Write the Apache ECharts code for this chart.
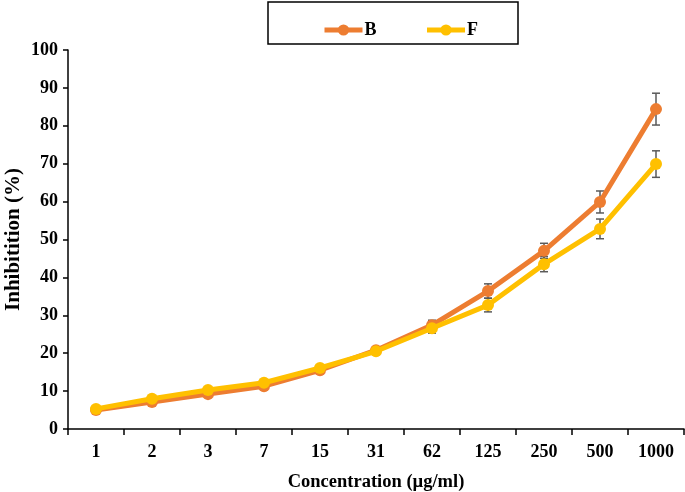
<!DOCTYPE html>
<html>
<head>
<meta charset="utf-8">
<script src="https://cdn.jsdelivr.net/npm/echarts@6/dist/echarts.min.js"></script>
<style>html,body{margin:0;padding:0;background:#fff}#c{width:685px;height:492px}</style>
</head>
<body>
<div id="c"></div>
<script>
const categories = ['1','2','3','7','15','31','62','125','250','500','1000'];
const seriesB = [5.0, 7.1, 9.2, 11.3, 15.5, 20.8, 27.4, 36.4, 47.0, 59.9, 84.4];
const seriesF = [5.3, 8.0, 10.3, 12.2, 16.1, 20.5, 26.6, 32.7, 43.5, 52.8, 69.9];
const errB = [0.3, 0.4, 0.4, 0.5, 0.5, 0.8, 1.3, 1.9, 2.0, 2.9, 4.2];
const errF = [0.3, 0.4, 0.4, 0.5, 0.5, 0.6, 1.3, 1.8, 2.0, 2.6, 3.5];
const yTicks = [0,10,20,30,40,50,60,70,80,90,100];

const FONT = '"Liberation Serif", "Times New Roman", serif';

function errSeries(vals, errs) {
  return {
    type: 'custom',
    z: 1,
    silent: true,
    data: vals.map((v, i) => [i, v - errs[i], v + errs[i]]),
    renderItem: function (params, api) {
      const lo = api.coord([api.value(0), api.value(1)]);
      const hi = api.coord([api.value(0), api.value(2)]);
      const w = 4;
      const st = { stroke: '#5a5a5a', lineWidth: 1.5 };
      return {
        type: 'group',
        children: [
          { type: 'line', shape: { x1: lo[0], y1: lo[1], x2: hi[0], y2: hi[1] }, style: st },
          { type: 'line', shape: { x1: lo[0]-w, y1: lo[1], x2: lo[0]+w, y2: lo[1] }, style: st },
          { type: 'line', shape: { x1: hi[0]-w, y1: hi[1], x2: hi[0]+w, y2: hi[1] }, style: st }
        ]
      };
    }
  };
}

const chart = echarts.init(document.getElementById('c'), null, { renderer: 'canvas' });
chart.setOption({
  animation: false,
  backgroundColor: '#fff',
  textStyle: { fontFamily: FONT },
  graphic: [{
    type: 'rect',
    shape: { x: 268, y: 2, width: 250, height: 42 },
    style: { fill: 'none', stroke: '#000', lineWidth: 1.5 },
    z: 0
  }],
  legend: {
    data: ['B', 'F'],
    left: 317,
    top: 16,
    itemWidth: 38,
    itemHeight: 14,
    itemGap: 48,
    lineStyle: { width: 5 },
    textStyle: { fontFamily: FONT, fontWeight: 'bold', fontSize: 18, color: '#000', padding: [0,0,0,-3] }
  },
  grid: { left: 68, right: 1, top: 50, bottom: 63, containLabel: false, outerBoundsMode: 'none' },
  xAxis: {
    type: 'category',
    data: categories,
    boundaryGap: true,
    name: 'Concentration (µg/ml)',
    nameLocation: 'middle',
    nameGap: 44,
    nameMoveOverlap: false,
    nameTextStyle: { fontFamily: FONT, fontWeight: 'bold', fontSize: 18.5, color: '#000' },
    axisLine: { lineStyle: { color: '#000', width: 1.5 } },
    axisTick: { show: true, length: 6, alignWithLabel: false, lineStyle: { color: '#000', width: 1.5 } },
    axisLabel: { fontFamily: FONT, fontWeight: 'bold', fontSize: 18, color: '#000', margin: 14 }
  },
  yAxis: {
    type: 'value',
    min: 0, max: 100, interval: 10,
    name: 'Inhibitition (%)',
    nameLocation: 'middle',
    nameGap: 44,
    nameMoveOverlap: false,
    nameRotate: 90,
    nameTextStyle: { fontFamily: FONT, fontWeight: 'bold', fontSize: 21, color: '#000' },
    splitLine: { show: false },
    axisLine: { show: true, lineStyle: { color: '#000', width: 1.5 } },
    axisTick: { show: true, length: 5, lineStyle: { color: '#000', width: 1.5 } },
    axisLabel: {
      fontFamily: FONT, fontWeight: 'bold', fontSize: 18, color: '#000', margin: 10,
      formatter: v => yTicks.includes(v) ? String(v) : ''
    }
  },
  series: [
    errSeries(seriesB, errB),
    errSeries(seriesF, errF),
    {
      name: 'B', type: 'line', data: seriesB,
      symbol: 'circle', symbolSize: 12,
      lineStyle: { color: '#ED7D31', width: 5 },
      itemStyle: { color: '#ED7D31' },
      z: 3
    },
    {
      name: 'F', type: 'line', data: seriesF,
      symbol: 'circle', symbolSize: 12,
      lineStyle: { color: '#FFC000', width: 5 },
      itemStyle: { color: '#FFC000' },
      z: 4
    }
  ]
});
</script>
</body>
</html>
